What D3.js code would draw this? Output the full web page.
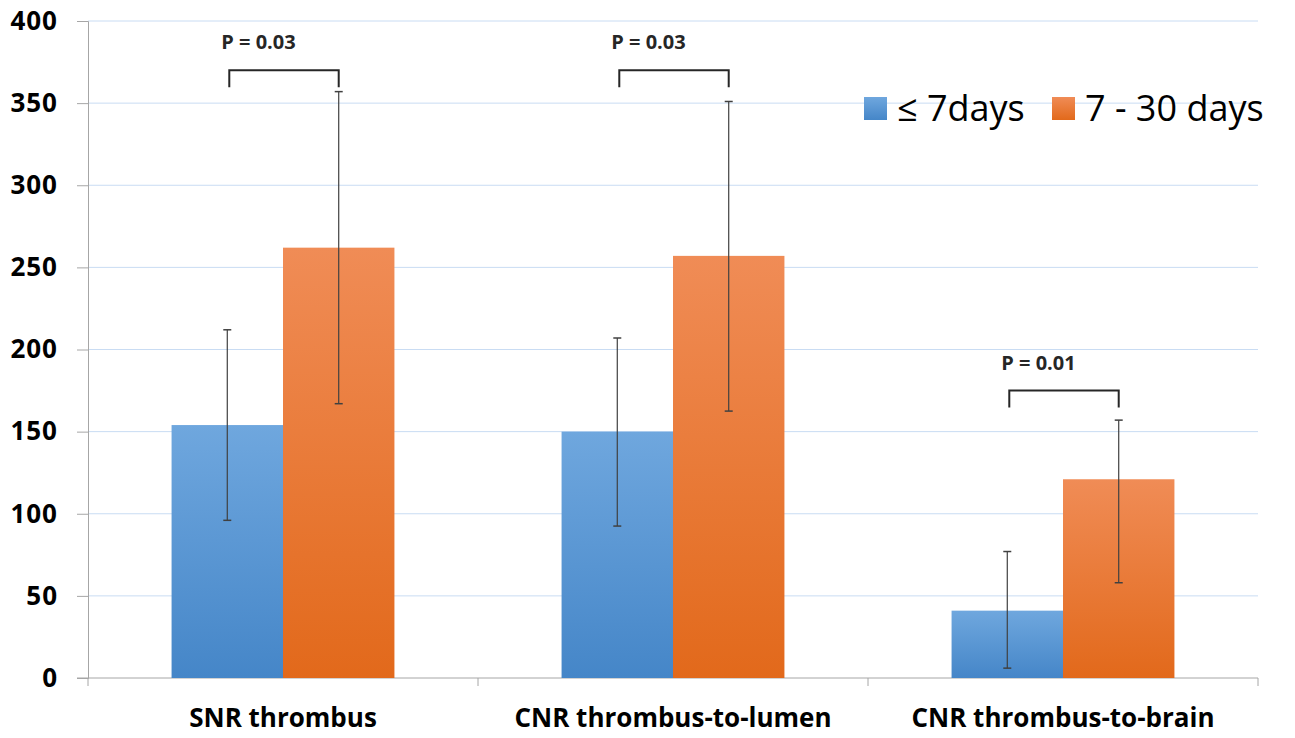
<!DOCTYPE html>
<html>
<head>
<meta charset="utf-8">
<script src="https://cdn.jsdelivr.net/npm/d3@7"></script>
<style>
  body { margin: 0; background: #fff; }
  text { font-family: "Open Sans", "Liberation Sans", sans-serif; }
</style>
</head>
<body>
<div id="chart"></div>
<script>
var categories = ["SNR thrombus", "CNR thrombus-to-lumen", "CNR thrombus-to-brain"];
var seriesNames = ["\u2264 7days", "7 - 30 days"];
var earlyMean = [154, 150, 41];
var earlyHigh = [212, 207, 77];
var earlyLow = [96, 92.5, 6];
var lateMean = [262, 257, 121];
var lateHigh = [357, 351, 157];
var lateLow = [167, 162.5, 58];
var pLabels = ["P = 0.03", "P = 0.03", "P = 0.01"];
var bracketY = [370, 370, 175];
var yTicks = [0, 50, 100, 150, 200, 250, 300, 350, 400];

var width = 1295, height = 738;
var margin = {top: 21, right: 37, bottom: 60, left: 88};

var svg = d3.select("#chart").append("svg")
  .attr("width", width)
  .attr("height", height);

var defs = svg.append("defs");
function grad(id, top, bottom) {
  var g = defs.append("linearGradient").attr("id", id)
    .attr("x1", 0).attr("y1", 0).attr("x2", 0).attr("y2", 1);
  g.append("stop").attr("offset", "0%").attr("stop-color", top);
  g.append("stop").attr("offset", "100%").attr("stop-color", bottom);
}
grad("gBlue", "#6fa7de", "#4586c8");
grad("gOrange", "#f08c56", "#e2691b");

var x0 = d3.scaleBand()
  .domain(categories)
  .range([margin.left, width - margin.right]);

var x1 = d3.scaleBand()
  .domain([0, 1])
  .range([0, x0.bandwidth()])
  .paddingOuter(0.75)
  .paddingInner(0);

var y = d3.scaleLinear()
  .domain([0, 400])
  .range([height - margin.bottom, margin.top]);

// gridlines
svg.append("g")
  .selectAll("line")
  .data(yTicks.filter(function(d) { return d > 0; }))
  .join("line")
  .attr("x1", margin.left)
  .attr("x2", width - margin.right)
  .attr("y1", function(d) { return y(d); })
  .attr("y2", function(d) { return y(d); })
  .style("stroke", "#c9dcf3")
  .style("stroke-width", 1);

// y axis
var yAxis = svg.append("g")
  .attr("transform", "translate(" + margin.left + ",0)")
  .call(d3.axisLeft(y).tickValues(yTicks).tickSize(11).tickPadding(19));
yAxis.select(".domain").style("stroke", "#a6a6a6");
yAxis.selectAll(".tick line").style("stroke", "#a6a6a6");
yAxis.selectAll(".tick text")
  .style("font-size", "26px")
  .style("font-weight", "bold")
  .style("letter-spacing", "1px")
  .attr("fill", "#000");

// x axis
var xAxisG = svg.append("g");
xAxisG.append("line")
  .attr("x1", margin.left - 11)
  .attr("x2", width - margin.right)
  .attr("y1", y(0))
  .attr("y2", y(0))
  .style("stroke", "#a6a6a6");
var bounds = categories.map(function(c) { return x0(c); }).concat([x0.range()[1]]);
xAxisG.selectAll("line.cat")
  .data(bounds)
  .join("line")
  .attr("class", "cat")
  .attr("x1", function(d) { return d; })
  .attr("x2", function(d) { return d; })
  .attr("y1", y(0))
  .attr("y2", y(0) + 8)
  .style("stroke", "#a6a6a6");
xAxisG.selectAll("text")
  .data(categories)
  .join("text")
  .attr("x", function(d) { return x0(d) + x0.bandwidth() / 2; })
  .attr("y", y(0) + 49)
  .attr("text-anchor", "middle")
  .style("font-size", "26px")
  .style("font-weight", "bold")
  .text(function(d) { return d; });

// bars
var rows = categories.map(function(c, i) {
  return {cat: c, i: i, vals: [
    {s: 0, m: earlyMean[i], hi: earlyHigh[i], lo: earlyLow[i]},
    {s: 1, m: lateMean[i], hi: lateHigh[i], lo: lateLow[i]}
  ]};
});

var groups = svg.append("g").selectAll("g")
  .data(rows)
  .join("g")
  .attr("transform", function(d) { return "translate(" + x0(d.cat) + ",0)"; });

groups.selectAll("rect")
  .data(function(d) { return d.vals; })
  .join("rect")
  .attr("x", function(d) { return x1(d.s); })
  .attr("width", x1.bandwidth())
  .attr("y", function(d) { return y(d.m); })
  .attr("height", function(d) { return y(0) - y(d.m); })
  .style("fill", function(d) { return d.s === 0 ? "url(#gBlue)" : "url(#gOrange)"; });

// error bars
var err = groups.selectAll("g.err")
  .data(function(d) { return d.vals; })
  .join("g")
  .attr("class", "err")
  .attr("transform", function(d) { return "translate(" + (x1(d.s) + x1.bandwidth() / 2) + ",0)"; });
err.append("line")
  .attr("y1", function(d) { return y(d.hi); })
  .attr("y2", function(d) { return y(d.lo); })
  .style("stroke", "#404040").style("stroke-width", 1.2);
err.append("line")
  .attr("x1", -4).attr("x2", 4)
  .attr("y1", function(d) { return y(d.hi); })
  .attr("y2", function(d) { return y(d.hi); })
  .style("stroke", "#404040").style("stroke-width", 1.5);
err.append("line")
  .attr("x1", -4).attr("x2", 4)
  .attr("y1", function(d) { return y(d.lo); })
  .attr("y2", function(d) { return y(d.lo); })
  .style("stroke", "#404040").style("stroke-width", 1.5);

// significance brackets
groups.each(function(d) {
  var g = d3.select(this);
  var xa = x1(0) + x1.bandwidth() / 2 + 2, xb = x1(1) + x1.bandwidth() / 2;
  var top = y(bracketY[d.i]), drop = 17;
  g.append("path")
    .attr("d", "M" + xa + "," + (top + drop) + "V" + top + "H" + xb + "V" + (top + drop))
    .style("fill", "none")
    .style("stroke", "#262626")
    .style("stroke-width", 2);
  g.append("text")
    .attr("x", xa - 8)
    .attr("y", top - 21)
    .style("font-size", "20px")
    .style("font-weight", "bold")
    .attr("fill", "#262626")
    .text(pLabels[d.i]);
});

// legend
var legendX = [864, 1052];
var legend = svg.append("g").selectAll("g")
  .data(seriesNames)
  .join("g")
  .attr("transform", function(d, i) { return "translate(" + legendX[i] + ",97)"; });
legend.append("rect")
  .attr("width", 23).attr("height", 23)
  .style("fill", function(d, i) { return i === 0 ? "url(#gBlue)" : "url(#gOrange)"; });
legend.append("text")
  .attr("x", 33)
  .attr("y", 24)
  .style("font-size", "36px")
  .attr("fill", "#000")
  .text(function(d) { return d; });
</script>
</body>
</html>
